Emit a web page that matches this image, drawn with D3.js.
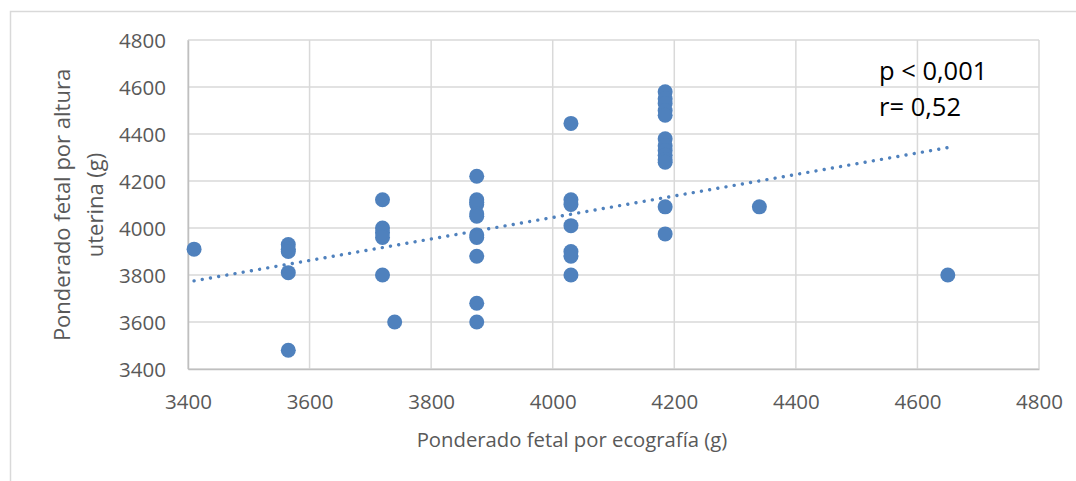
<!DOCTYPE html>
<html>
<head>
<meta charset="utf-8">
<script src="https://cdn.jsdelivr.net/npm/d3@7/dist/d3.min.js"></script>
<style>
  html, body { margin: 0; padding: 0; background: #fff; }
  svg { display: block; }
  text { font-family: "Open Sans", "Noto Sans", sans-serif; }
</style>
</head>
<body>
<svg id="chart" width="1076" height="481"></svg>
<script>
// ---- data ----
const ecografia = [
  3410,
  3565, 3565, 3565, 3565, 3565,
  3720, 3720, 3720, 3720, 3720,
  3740,
  3875, 3875, 3875, 3875, 3875, 3875, 3875, 3875, 3875, 3875, 3875,
  4030, 4030, 4030, 4030, 4030, 4030, 4030,
  4185, 4185, 4185, 4185, 4185, 4185, 4185, 4185, 4185, 4185, 4185, 4185, 4185,
  4340,
  4650
];
const alturaUterina = [
  3910,
  3930, 3910, 3900, 3810, 3480,
  4120, 4000, 3980, 3960, 3800,
  3600,
  4220, 4120, 4110, 4100, 4060, 4050, 3970, 3960, 3880, 3680, 3600,
  4445, 4120, 4100, 4010, 3900, 3880, 3800,
  4580, 4550, 4530, 4500, 4480, 4380, 4350, 4330, 4310, 4290, 4280, 4090, 3975,
  4090,
  3800
];
const trendX = [3410, 4650];
const trendY = [3775, 4342];
const xTicks = [3400, 3600, 3800, 4000, 4200, 4400, 4600, 4800];
const yTicks = [3400, 3600, 3800, 4000, 4200, 4400, 4600, 4800];
const annotation = ["p < 0,001", "r= 0,52"];
const xTitle = "Ponderado fetal por ecografía (g)";
const yTitle = ["Ponderado fetal por altura", "uterina (g)"];

const points = ecografia.map((v, i) => ({x: v, y: alturaUterina[i]}));

// ---- layout ----
const svg = d3.select("#chart");
const plot = {left: 188, right: 1039, top: 40, bottom: 369};
const x = d3.scaleLinear().domain([3400, 4800]).range([plot.left, plot.right]);
const y = d3.scaleLinear().domain([3400, 4800]).range([plot.bottom, plot.top]);
const blue = "#4f81bd";
const grid = "#d9d9d9";
const tickColor = "#595959";

// chart frame
svg.append("path")
  .attr("d", "M10.5,481 V11.5 H1076")
  .attr("fill", "none").attr("stroke", "#d9d9d9").attr("stroke-width", 1.5);

// gridlines
svg.append("g").selectAll("line").data(xTicks).join("line")
  .attr("x1", d => x(d)).attr("x2", d => x(d))
  .attr("y1", plot.top).attr("y2", plot.bottom)
  .attr("stroke", grid).attr("stroke-width", 1.5);
svg.append("g").selectAll("line").data(yTicks).join("line")
  .attr("x1", plot.left).attr("x2", plot.right)
  .attr("y1", d => y(d)).attr("y2", d => y(d))
  .attr("stroke", grid).attr("stroke-width", 1.5);

// axes
const xAxis = svg.append("g")
  .attr("transform", `translate(0,${plot.bottom})`)
  .call(d3.axisBottom(x).tickValues(xTicks).tickSize(0).tickPadding(20).tickFormat(d3.format("d")));
const yAxis = svg.append("g")
  .attr("transform", `translate(${plot.left},0)`)
  .call(d3.axisLeft(y).tickValues(yTicks).tickSize(0).tickPadding(22).tickFormat(d3.format("d")));
[xAxis, yAxis].forEach(g => {
  g.select(".domain").attr("stroke", "#bfbfbf").attr("stroke-width", 1.5);
  g.selectAll("text").attr("fill", tickColor).style("font-size", "20.5px")
    .style("font-family", '"Open Sans", sans-serif');
});
xAxis.selectAll("text").attr("dy", "0.71em").attr("y", 25);
yAxis.selectAll("text").attr("dy", "0.35em");

// trend line (dotted)
svg.append("path")
  .datum(trendX.map((v, i) => [v, trendY[i]]))
  .attr("d", d3.line().x(d => x(d[0])).y(d => y(d[1])))
  .attr("fill", "none").attr("stroke", blue)
  .attr("stroke-width", 3.4).attr("stroke-linecap", "round")
  .attr("stroke-dasharray", "0.01 8.3");

// points
svg.append("g").selectAll("circle").data(points).join("circle")
  .attr("cx", d => x(d.x)).attr("cy", d => y(d.y)).attr("r", 7.5)
  .attr("fill", blue);

// annotation
svg.append("g").selectAll("text").data(annotation).join("text")
  .attr("x", 879).attr("y", (d, i) => 80 + i * 36)
  .attr("fill", "#000").style("font-size", "25.5px").text(d => d);

// axis titles
svg.append("text")
  .attr("x", 572).attr("y", 447)
  .attr("text-anchor", "middle").attr("fill", tickColor)
  .style("font-size", "20.3px").text(xTitle);
svg.append("g").attr("transform", "translate(0,205) rotate(-90)")
  .selectAll("text").data(yTitle).join("text")
  .attr("x", 0).attr("y", (d, i) => 70 + i * 33)
  .attr("text-anchor", "middle").attr("fill", tickColor)
  .style("font-size", "22px").text(d => d);
</script>
</body>
</html>
